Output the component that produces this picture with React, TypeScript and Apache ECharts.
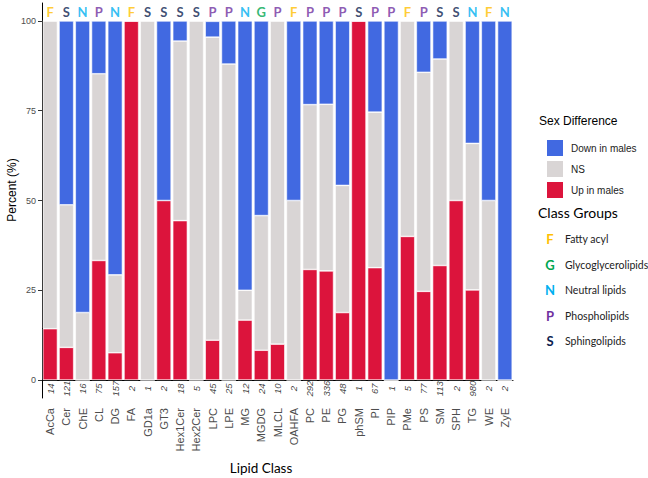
import { useEffect, useRef } from 'react';
import * as echarts from 'echarts';

const categories = ['AcCa', 'Cer', 'ChE', 'CL', 'DG', 'FA', 'GD1a', 'GT3', 'Hex1Cer', 'Hex2Cer', 'LPC', 'LPE', 'MG', 'MGDG', 'MLCL', 'OAHFA', 'PC', 'PE', 'PG', 'phSM', 'PI', 'PIP', 'PMe', 'PS', 'SM', 'SPH', 'TG', 'WE', 'ZyE'];
const upInMales = [14.3, 9.1, 0, 33.3, 7.6, 100, 0, 50, 44.4, 0, 11.1, 0, 16.7, 8.3, 10, 0, 30.8, 30.4, 18.8, 100, 31.3, 0, 40, 24.7, 31.9, 50, 25.1, 0, 0];
const notSignificant = [85.7, 39.7, 18.8, 52.0, 21.7, 0, 100, 0, 50.0, 100, 84.4, 88, 8.3, 37.5, 90, 50, 45.9, 46.4, 35.4, 0, 43.3, 0, 60, 61.0, 57.5, 50, 40.8, 50, 0];
const downInMales = [0, 51.2, 81.2, 14.7, 70.7, 0, 0, 50, 5.6, 0, 4.4, 12, 75, 54.2, 0, 50, 23.3, 23.2, 45.8, 0, 25.4, 100, 0, 14.3, 10.6, 0, 34.1, 50, 100];
const counts = [14, 121, 16, 75, 157, 2, 1, 2, 18, 5, 45, 25, 12, 24, 10, 2, 292, 336, 48, 1, 67, 1, 5, 77, 113, 2, 980, 2, 2];
const classGroup = ['F', 'S', 'N', 'P', 'N', 'F', 'S', 'S', 'S', 'S', 'P', 'P', 'N', 'G', 'P', 'F', 'P', 'P', 'P', 'S', 'P', 'P', 'F', 'P', 'S', 'S', 'N', 'F', 'N'];
const groupLetters = ['F', 'G', 'N', 'P', 'S'];
const groupNames = ['Fatty acyl', 'Glycoglycerolipids', 'Neutral lipids', 'Phospholipids', 'Sphingolipids'];
const yTicks = [0, 25, 50, 75, 100];

const groupColors: Record<string, string> = {
  F: '#FFC000',
  G: '#00A651',
  N: '#00B0F0',
  P: '#7030A0',
  S: '#0D1E4F',
};

export default function App() {
  const ref = useRef<HTMLDivElement>(null);
  useEffect(() => {
    const chart = echarts.init(ref.current!, null, { renderer: 'svg' });
    const barCommon = {
      type: 'bar',
      stack: 'pct',
      barWidth: '90%',
      itemStyle: { borderColor: '#ffffff', borderWidth: 0.6 },
    };
    const legendGraphics: any[] = [];
    groupLetters.forEach((g, i) => {
      legendGraphics.push({
        type: 'text',
        x: 550,
        y: 239 + i * 25.5,
        style: {
          text: g,
          fill: groupColors[g],
          font: 'bold 13px Lato',
          textAlign: 'center',
          textVerticalAlign: 'middle',
        },
      });
      legendGraphics.push({
        type: 'text',
        x: 565,
        y: 239 + i * 25.5,
        style: {
          text: groupNames[i],
          fill: '#222',
          font: '10.5px Lato',
          textAlign: 'left',
          textVerticalAlign: 'middle',
        },
      });
    });
    chart.setOption({
      animation: false,
      backgroundColor: '#ffffff',
      grid: { left: 42, right: 135, top: 3, bottom: 80 },
      legend: {
        data: ['Down in males', 'NS', 'Up in males'],
        orient: 'vertical',
        left: 540,
        top: 133,
        itemWidth: 18,
        itemHeight: 18,
        itemGap: 1,
        icon: 'rect',
        selectedMode: false,
        textStyle: { fontSize: 10, color: '#222', fontFamily: 'Liberation Sans', padding: [0, 0, 0, 2] },
      },
      xAxis: {
        type: 'category',
        data: categories,
        axisLine: { lineStyle: { color: '#000', width: 1 } },
        axisTick: { alignWithLabel: true, length: 4, lineStyle: { color: '#333' } },
        axisLabel: { rotate: 90, margin: 10, fontSize: 11, color: '#4d4d4d', fontFamily: 'Liberation Sans', interval: 0 },
      },
      yAxis: {
        type: 'value',
        min: -5,
        max: 105,
        splitLine: { show: false },
        axisLine: { show: true, lineStyle: { color: '#000', width: 1 } },
        axisTick: { show: true, length: 4, customValues: yTicks, lineStyle: { color: '#333' } },
        axisLabel: { customValues: yTicks, fontSize: 9, color: '#4d4d4d', fontFamily: 'Liberation Sans', margin: 6 },
      },
      series: [
        { ...barCommon, name: 'Up in males', data: upInMales, itemStyle: { ...barCommon.itemStyle, color: '#DC143C' } },
        { ...barCommon, name: 'NS', data: notSignificant, itemStyle: { ...barCommon.itemStyle, color: '#D9D5D5' } },
        { ...barCommon, name: 'Down in males', data: downInMales, itemStyle: { ...barCommon.itemStyle, color: '#4169E1' } },
        {
          type: 'scatter',
          name: 'counts',
          symbolSize: 1,
          itemStyle: { color: 'rgba(0,0,0,0)' },
          data: counts.map(() => -2.4),
          label: {
            show: true,
            position: 'inside',
            rotate: 90,
            fontStyle: 'italic',
            fontSize: 9.5,
            color: '#111',
            fontFamily: 'Liberation Sans',
            formatter: (p: any) => String(counts[p.dataIndex]),
          },
          z: 5,
        },
        {
          type: 'scatter',
          name: 'groups',
          symbolSize: 1,
          itemStyle: { color: 'rgba(0,0,0,0)' },
          data: classGroup.map((g) => ({ value: 102.4, label: { color: groupColors[g] } })),
          label: {
            show: true,
            position: 'inside',
            fontWeight: 'bold',
            fontSize: 13,
            fontFamily: 'Lato',
            formatter: (p: any) => classGroup[p.dataIndex],
          },
          z: 5,
        },
      ],
      graphic: [
        {
          type: 'text',
          x: 12,
          y: 190,
          rotation: Math.PI / 2,
          style: { text: 'Percent (%)', fill: '#000', font: '12px Liberation Sans', textAlign: 'center', textVerticalAlign: 'middle' },
        },
        {
          type: 'text',
          x: 261,
          y: 468,
          style: { text: 'Lipid Class', fill: '#000', font: '13.5px Lato', textAlign: 'center', textVerticalAlign: 'middle' },
        },
        {
          type: 'text',
          x: 539,
          y: 121,
          style: { text: 'Sex Difference', fill: '#000', font: '12px Liberation Sans', textAlign: 'left', textVerticalAlign: 'middle' },
        },
        {
          type: 'text',
          x: 538,
          y: 212,
          style: { text: 'Class Groups', fill: '#000', font: '14px Lato', textAlign: 'left', textVerticalAlign: 'middle' },
        },
        ...legendGraphics,
      ],
    });
    return () => chart.dispose();
  }, []);
  return <div ref={ref} style={{ position: 'fixed', left: 0, top: 0, width: 648, height: 478 }} />;
}
